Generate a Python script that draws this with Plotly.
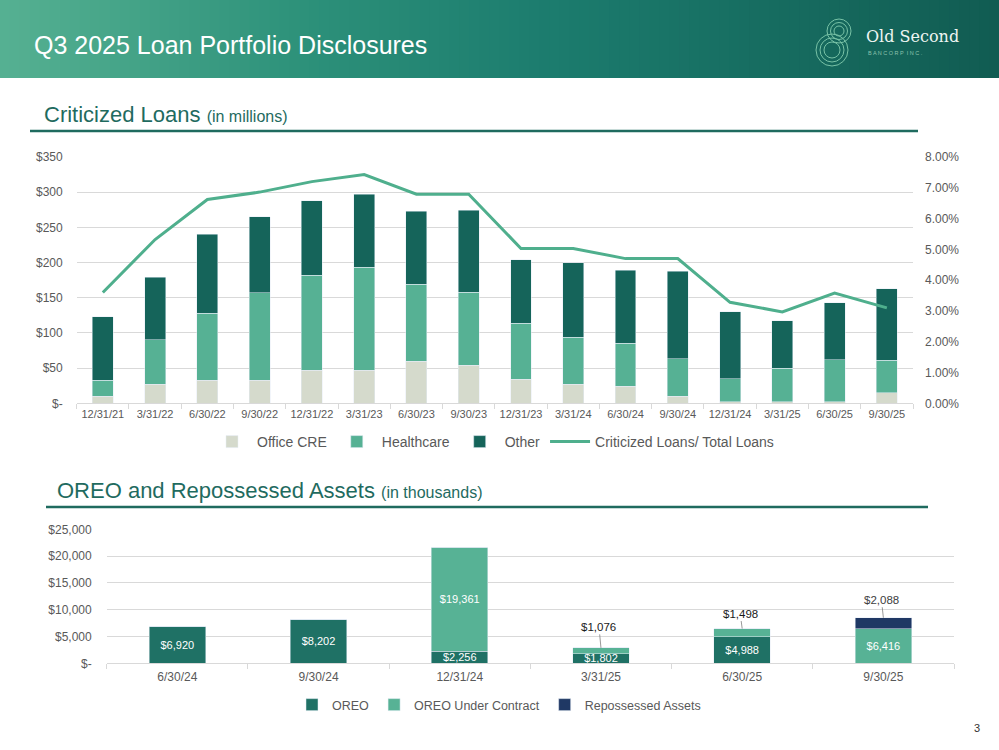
import plotly.graph_objects as go

# ---------------- data ----------------
loan_dates = ["12/31/21", "3/31/22", "6/30/22", "9/30/22", "12/31/22", "3/31/23", "6/30/23", "9/30/23",
              "12/31/23", "3/31/24", "6/30/24", "9/30/24", "12/31/24", "3/31/25", "6/30/25", "9/30/25"]
office_cre = [10, 27, 33, 33, 47, 47, 60, 54, 34, 27, 24, 10, 2, 2, 2, 15]
healthcare = [23, 63, 95, 124, 135, 146, 109, 104, 80, 67, 61, 53, 33, 48, 60, 46]
other = [90, 89, 112, 108, 106, 104, 104, 116, 90, 106, 104, 125, 95, 67, 81, 102]
crit_ratio = [0.0360, 0.0532, 0.0662, 0.0686, 0.0720, 0.0743, 0.0679, 0.0679,
              0.0503, 0.0503, 0.0470, 0.0470, 0.0328, 0.0297, 0.0358, 0.0310]

oreo_dates = ["6/30/24", "9/30/24", "12/31/24", "3/31/25", "6/30/25", "9/30/25"]
oreo = [6920, 8202, 2256, 1802, 4988, 0]
oreo_contract = [0, 0, 19361, 1076, 1498, 6416]
repossessed = [0, 0, 0, 0, 0, 2088]
# which values are labelled outside the bar with a leader line
contract_outside = [False, False, False, True, True, False]
repo_outside = [False, False, False, False, False, True]

left_ticks = [0, 50, 100, 150, 200, 250, 300, 350]
right_ticks = [0, 0.01, 0.02, 0.03, 0.04, 0.05, 0.06, 0.07, 0.08]
oreo_ticks = [0, 5000, 10000, 15000, 20000, 25000]

# ---------------- style ----------------
W, H = 999, 750
FONT = "Liberation Sans, Arial, sans-serif"
C_OFFICE = "#d5dacc"
C_HEALTH = "#56b194"
C_OTHER = "#15645a"
C_LINE = "#4faf8d"
C_OREO = "#1f7165"
C_CONTRACT = "#57b295"
C_REPO = "#1f3864"
C_HEAD = "#1f6b5f"
GRID = "#d9d9d9"
TICK = "#595959"


def px(x):
    return x / W


def py(y):
    return 1 - y / H


def money(v):
    return "${:,.0f}".format(v)


fig = go.Figure()

# ---- Criticized loans (top) ----
fig.add_trace(go.Bar(x=loan_dates, y=office_cre, name="Office CRE", marker_color=C_OFFICE,
                     width=0.4, xaxis="x", yaxis="y", legend="legend"))
fig.add_trace(go.Bar(x=loan_dates, y=healthcare, name="Healthcare", marker_color=C_HEALTH,
                     width=0.4, xaxis="x", yaxis="y", legend="legend"))
fig.add_trace(go.Bar(x=loan_dates, y=other, name="Other", marker_color=C_OTHER,
                     width=0.4, xaxis="x", yaxis="y", legend="legend"))
fig.add_trace(go.Scatter(x=loan_dates, y=crit_ratio, name="Criticized Loans/ Total Loans", mode="lines",
                         line=dict(color=C_LINE, width=3), xaxis="x", yaxis="y2", legend="legend"))

# ---- OREO (bottom) ----
oreo_text = [money(v) if v else "" for v in oreo]
contract_text = [money(v) if (v and not o) else "" for v, o in zip(oreo_contract, contract_outside)]
repo_text = [money(v) if (v and not o) else "" for v, o in zip(repossessed, repo_outside)]
common = dict(width=0.4, xaxis="x2", yaxis="y3", legend="legend2", textposition="inside",
              insidetextanchor="middle", constraintext="none", textangle=0,
              textfont=dict(family=FONT, size=11, color="white"), hoverinfo="y")
fig.add_trace(go.Bar(x=oreo_dates, y=oreo, name="OREO", marker_color=C_OREO, text=oreo_text, **common))
fig.add_trace(go.Bar(x=oreo_dates, y=oreo_contract, name="OREO Under Contract", marker_color=C_CONTRACT,
                     text=contract_text, **common))
fig.add_trace(go.Bar(x=oreo_dates, y=repossessed, name="Repossessed Assets", marker_color=C_REPO,
                     text=repo_text, **common))

annotations = []
# outside labels with leader lines
offsets = {3: -21, 4: -15, 5: -18}
for i, d in enumerate(oreo_dates):
    top = oreo[i] + oreo_contract[i] + repossessed[i]
    if contract_outside[i]:
        annotations.append(dict(x=d, y=top, xref="x2", yref="y3", text=money(oreo_contract[i]),
                                showarrow=True, arrowhead=0, arrowwidth=0.8, arrowcolor="#7f7f7f",
                                ax=-2, ay=offsets.get(i, -18), standoff=0,
                                font=dict(family=FONT, size=11.5, color="#1a1a1a")))
    if repo_outside[i]:
        annotations.append(dict(x=d, y=top, xref="x2", yref="y3", text=money(repossessed[i]),
                                showarrow=True, arrowhead=0, arrowwidth=0.8, arrowcolor="#7f7f7f",
                                ax=-2, ay=offsets.get(i, -18), standoff=0,
                                font=dict(family=FONT, size=11.5, color="#404040")))

# header texts
annotations.append(dict(x=px(32), y=py(45), xref="paper", yref="paper", xanchor="left", yanchor="middle",
                        text="Q3 2025 Loan Portfolio Disclosures", showarrow=False,
                        font=dict(family=FONT, size=25, color="white")))
annotations.append(dict(x=px(864), y=py(36), xref="paper", yref="paper", xanchor="left", yanchor="middle",
                        text="Old Second", showarrow=False,
                        font=dict(family="DejaVu Serif, serif", size=16, color="#eef5f2")))
annotations.append(dict(x=px(866), y=py(53), xref="paper", yref="paper", xanchor="left", yanchor="middle",
                        text="B A N C O R P  I N C .", showarrow=False,
                        font=dict(family=FONT, size=5.5, color="#8cc2ae")))
annotations.append(dict(x=px(42), y=py(114), xref="paper", yref="paper", xanchor="left", yanchor="middle",
                        text="Criticized Loans <span style='font-size:16px'>(in millions)</span>",
                        showarrow=False, font=dict(family=FONT, size=22, color=C_HEAD)))
annotations.append(dict(x=px(55), y=py(490), xref="paper", yref="paper", xanchor="left", yanchor="middle",
                        text="OREO and Repossessed Assets <span style='font-size:16px'>(in thousands)</span>",
                        showarrow=False, font=dict(family=FONT, size=22, color=C_HEAD)))
annotations.append(dict(x=px(977), y=py(728), xref="paper", yref="paper", xanchor="center", yanchor="middle",
                        text="3", showarrow=False, font=dict(family=FONT, size=11, color="#333333")))

# ---- shapes: header gradient, logo, underlines ----
shapes = []
stops = [(0.0, (86, 177, 146)), (0.3, (45, 145, 122)), (0.55, (28, 124, 110)), (1.0, (17, 92, 82))]


def grad(t):
    for (t0, c0), (t1, c1) in zip(stops[:-1], stops[1:]):
        if t <= t1:
            f = (t - t0) / (t1 - t0)
            return "rgb({},{},{})".format(*[round(a + (b - a) * f) for a, b in zip(c0, c1)])
    return "rgb({},{},{})".format(*stops[-1][1])


N = 100
for k in range(N):
    x0 = k / N
    x1 = (k + 1.5) / N
    shapes.append(dict(type="rect", xref="paper", yref="paper", x0=x0, x1=min(x1, 1.0),
                       y0=py(78), y1=1, fillcolor=grad((k + 0.5) / N), line=dict(width=0), layer="below"))

# logo: concentric loops
for cx, cy, radii in [(839, 31, [5, 8.5, 12]), (832, 50, [8, 12, 16])]:
    for r in radii:
        shapes.append(dict(type="circle", xref="paper", yref="paper",
                           x0=px(cx - r), x1=px(cx + r), y0=py(cy + r), y1=py(cy - r),
                           line=dict(color="#78c2a6", width=1)))

shapes.append(dict(type="line", xref="paper", yref="paper", x0=px(30), x1=px(918), y0=py(131), y1=py(131),
                   line=dict(color=C_HEAD, width=2.5)))
shapes.append(dict(type="line", xref="paper", yref="paper", x0=px(46), x1=px(928), y0=py(507), y1=py(507),
                   line=dict(color=C_HEAD, width=2.5)))

fig.update_layout(
    width=W, height=H, autosize=False,
    margin=dict(l=0, r=0, t=0, b=0, pad=0, autoexpand=False),
    paper_bgcolor="white", plot_bgcolor="white",
    barmode="stack", bargap=0.6,
    font=dict(family=FONT, color=TICK),
    showlegend=True,
    shapes=shapes, annotations=annotations,
    xaxis=dict(domain=[px(76.7), px(913)], anchor="y", type="category", automargin=False,
               showline=True, linecolor=GRID, linewidth=1,
               ticks="outside", tickson="boundaries", ticklen=5, tickcolor=GRID,
               tickfont=dict(family=FONT, size=11, color=TICK), showgrid=False),
    yaxis=dict(domain=[py(403.3), py(157)], anchor="x", range=[0, 350], automargin=False,
               tickvals=left_ticks, ticktext=["$-" if v == 0 else "${}".format(v) for v in left_ticks],
               showgrid=True, gridcolor=GRID, gridwidth=1, zeroline=False, showline=False,
               tickfont=dict(family=FONT, size=12, color=TICK), ticklabelstandoff=13),
    yaxis2=dict(overlaying="y", side="right", anchor="x", range=[0, 0.08], automargin=False,
                tickvals=right_ticks, tickformat=".2%", showgrid=False, zeroline=False, showline=False,
                tickfont=dict(family=FONT, size=12, color=TICK), ticklabelstandoff=11),
    xaxis2=dict(domain=[px(106.7), px(954)], anchor="y3", type="category", automargin=False,
                showline=True, linecolor=GRID, linewidth=1,
                ticks="outside", tickson="boundaries", ticklen=5, tickcolor=GRID,
                tickfont=dict(family=FONT, size=12, color=TICK), showgrid=False, ticklabelstandoff=2),
    yaxis3=dict(domain=[py(663.3), py(529.3)], anchor="x2", range=[0, 25000], automargin=False,
                tickvals=oreo_ticks, ticktext=["$-" if v == 0 else "${:,}".format(v) for v in oreo_ticks],
                showgrid=True, gridcolor=GRID, gridwidth=1, zeroline=False, showline=False,
                tickfont=dict(family=FONT, size=12, color=TICK), ticklabelstandoff=14),
    legend=dict(orientation="h", x=0.4935, xanchor="center", y=py(442), yanchor="middle",
                font=dict(family=FONT, size=14, color=TICK), bgcolor="rgba(0,0,0,0)",
                traceorder="normal", itemwidth=40),
    legend2=dict(orientation="h", x=0.4995, xanchor="center", y=py(705), yanchor="middle",
                 font=dict(family=FONT, size=12.5, color=TICK), bgcolor="rgba(0,0,0,0)",
                 traceorder="normal", itemwidth=30),
)

post = """
var h=document.documentElement, b=document.body;
h.style.margin='0'; h.style.padding='0'; h.style.overflow='hidden';
b.style.margin='0'; b.style.padding='0'; b.style.overflow='hidden';
var gd=document.getElementsByClassName('plotly-graph-div')[0];
if (gd) { gd.style.position='absolute'; gd.style.left='0px'; gd.style.top='0px'; }
"""
fig.write_html("out.html", config={"displayModeBar": False}, post_script=post)
